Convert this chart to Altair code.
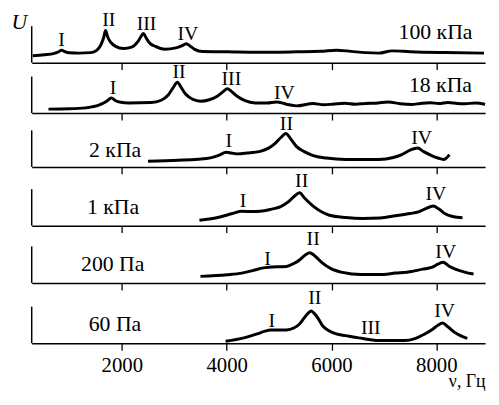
import altair as alt
import pandas as pd

FONT = "Liberation Serif"
X_DOMAIN = [280, 8930]
PANEL_U_MAX = 37          # height of each plotted frame in U units
TICK_VALUES = [2000, 4000, 6000, 8000]
X_TITLE = "ν, Гц"
Y_TITLE = "U"

# ---- panel 1: 100 кПа ----
p1_nu = [300, 520, 710, 790, 850, 900, 1000, 1180, 1410, 1520, 1600, 1650, 1690, 1730, 1790, 1880,
         2030, 2200, 2300, 2360, 2410, 2460, 2520, 2640, 2820, 3030, 3140, 3230, 3300, 3390, 3540,
         4010, 4580, 5330, 5800, 6090, 6370, 6650, 6900, 7160, 7500, 8160, 8910]
p1_u = [7, 8, 9.5, 11, 12.7, 11.5, 10, 9.7, 10.2, 12.5, 18, 25, 32.7, 26, 20.5, 16.5,
        14.3, 16, 21, 26, 29.7, 25.5, 20.5, 16.5, 13.7, 15, 17, 19.3, 17, 13.5, 11.3,
        11, 10.5, 11, 11.5, 12.7, 11.5, 10.2, 9.7, 12, 11.2, 10.3, 9.7]
p1_pk_nu = [850, 1750, 2470, 3260]
p1_pk_u = [23, 43, 39.3, 29.3]
p1_pk_txt = ["I", "II", "III", "IV"]
p1_name = "100 кПа"

# ---- panel 2: 18 кПа ----
p2_nu = [600, 1000, 1310, 1560, 1710, 1800, 1880, 1980, 2130, 2560, 2750, 2880, 2970, 3060, 3130,
         3220, 3350, 3500, 3670, 3820, 3940, 4010, 4090, 4200, 4350, 4540, 4770, 4950, 5140, 5330,
         5650, 5850, 6020, 6250, 6460, 6650, 6840, 7080, 7310, 7530, 7700, 7880, 8050, 8220, 8400,
         8540, 8750, 8930]
p2_u = [4, 4.3, 5.3, 8, 12, 15.3, 12.5, 11, 10.3, 10.7, 13, 18, 25, 31.3, 26,
        19, 14, 12, 13.5, 17, 22, 24.7, 22, 17, 12.5, 10.3, 10.3, 11.3, 9, 7.3,
        9.7, 8.5, 9, 10, 9, 9.8, 10, 11.3, 9.5, 8.7, 9.8, 10.5, 9.6, 10.7, 9.8,
        9.5, 10.2, 9]
p2_pk_nu = [1830, 3090, 4090, 5100]
p2_pk_u = [25.7, 42, 34.7, 20.7]
p2_pk_txt = ["I", "II", "III", "IV"]
p2_name = "18 кПа"

# ---- panel 3: 2 кПа ----
p3_nu = [2500, 3070, 3450, 3690, 3860, 3990, 4090, 4200, 4390, 4640, 4800, 4920, 5030, 5130, 5220,
         5330, 5480, 5650, 5900, 6270, 6900, 7180, 7340, 7500, 7640, 7760, 7910, 8030, 8140, 8250]
p3_u = [5.8, 6.8, 7.8, 9.2, 12, 14.8, 14, 13.2, 14, 15.8, 19, 23.5, 29.5, 33.8, 28.5,
        20.8, 15.5, 11.5, 9, 7.5, 7.5, 9.5, 12.5, 17, 19.2, 15.5, 11.5, 9, 7.5, 12.5]
p3_pk_nu = [4040, 5140, 7720]
p3_pk_u = [25.8, 43, 29.2]
p3_pk_txt = ["I", "II", "IV"]
p3_name = "2 кПа"

# ---- panel 4: 1 кПа ----
p4_nu = [3480, 3670, 3890, 4110, 4290, 4480, 4640, 4860, 5020, 5180, 5290, 5390, 5480, 5650,
         5800, 5960, 6270, 6590, 6930, 7220, 7500, 7660, 7800, 7940, 8050, 8160, 8310, 8500]
p4_u = [5.6, 6.8, 9, 12.3, 14.6, 14.3, 14.6, 16.8, 19, 24.3, 29.8, 33.3, 28.3, 19.8,
        14.3, 10.6, 8.3, 7.3, 7.8, 10, 12.3, 14, 17.3, 20, 16.8, 12.3, 9.3, 8]
p4_pk_nu = [4310, 5430, 7990]
p4_pk_u = [24.6, 45.6, 32.3]
p4_pk_txt = ["I", "II", "IV"]
p4_name = "1 кПа"

# ---- panel 5: 200 Па ----
p5_nu = [3500, 4010, 4290, 4510, 4670, 4800, 5140, 5290, 5390, 5480, 5580, 5670, 5750, 5830,
         5990, 6210, 6560, 6900, 7220, 7530, 7740, 7910, 8030, 8130, 8230, 8350, 8540, 8710]
p5_u = [6.7, 8.3, 10, 12.7, 15, 16, 16.7, 20, 23.3, 27.5, 30.7, 28, 24, 20,
        14.5, 10.7, 8.5, 8.5, 10, 11.7, 14, 15.7, 19, 21, 17.5, 14.3, 11, 9]
p5_pk_nu = [4780, 5650, 8180]
p5_pk_u = [24.3, 44, 31.7]
p5_pk_txt = ["I", "II", "IV"]
p5_name = "200 Па"

# ---- panel 6: 60 Па ----
p6_nu = [3980, 4330, 4580, 4730, 4830, 5140, 5290, 5390, 5480, 5560, 5610, 5670, 5750, 5830,
         5950, 6090, 6270, 6520, 6900, 7400, 7590, 7780, 7930, 8030, 8120, 8220, 8350, 8460, 8590]
p6_u = [2, 5.4, 9.4, 12.2, 13.4, 13.4, 15.7, 19.4, 25.7, 30.7, 32.7, 30.2, 24.7, 17.7,
        12.7, 9.4, 7.7, 5.4, 2.7, 2.7, 4.7, 9.4, 14.2, 18.2, 20.4, 16.7, 11, 7.7, 5]
p6_pk_nu = [4860, 5680, 6750, 8160]
p6_pk_u = [22.7, 45.4, 15, 32.7]
p6_pk_txt = ["I", "II", "III", "IV"]
p6_name = "60 Па"

# pressure-label anchor (right edge) per panel
name_nu = [8690, 8680, 2370, 2330, 2430, 2370]
name_u = [31, 28, 17.5, 19, 19, 19.4]

panels = [
    (p1_nu, p1_u, p1_pk_nu, p1_pk_u, p1_pk_txt, p1_name),
    (p2_nu, p2_u, p2_pk_nu, p2_pk_u, p2_pk_txt, p2_name),
    (p3_nu, p3_u, p3_pk_nu, p3_pk_u, p3_pk_txt, p3_name),
    (p4_nu, p4_u, p4_pk_nu, p4_pk_u, p4_pk_txt, p4_name),
    (p5_nu, p5_u, p5_pk_nu, p5_pk_u, p5_pk_txt, p5_name),
    (p6_nu, p6_u, p6_pk_nu, p6_pk_u, p6_pk_txt, p6_name),
]
# extra empty headroom above each frame (uneven gaps between frames)
BASE_GAP = 14
headroom = [0, 0, 3.5, 8, 7, 10]
PANEL_W = 459

xscale = alt.Scale(domain=X_DOMAIN, nice=False, zero=False)


def make_panel(i, nu, u, pk_nu, pk_u, pk_txt, name):
    last = i == len(panels) - 1
    first = i == 0
    top = PANEL_U_MAX + headroom[i]
    yscale = alt.Scale(domain=[0, top], nice=False, zero=False)
    if last:
        xaxis = alt.Axis(values=TICK_VALUES, format="d", grid=False, tickSize=7, tickWidth=1.3,
                         tickColor="black", domainColor="black", domainWidth=1.5, labelFont=FONT,
                         labelFontSize=21, labelColor="black", labelPadding=5, title=X_TITLE,
                         titleFont=FONT, titleFontSize=18, titleFontWeight="normal",
                         titleColor="black", titleAnchor="end", titlePadding=-3)
    else:
        xaxis = alt.Axis(values=TICK_VALUES, grid=False, tickSize=7, tickWidth=1.3, tickColor="black",
                         domainColor="black", domainWidth=1.5, labels=False, title=None)
    if first:
        yaxis = alt.Axis(grid=False, ticks=False, labels=False, domain=False,
                         title=Y_TITLE, titleAngle=0, titleFont=FONT, titleFontSize=22,
                         titleFontStyle="italic", titleFontWeight="normal", titleColor="black",
                         titleAlign="left", titleBaseline="alphabetic", titleX=-21, titleY=2)
    else:
        yaxis = alt.Axis(grid=False, ticks=False, labels=False, domain=False, title=None)

    line_df = pd.DataFrame({"nu": nu, "U": u})
    pk_df = pd.DataFrame({"nu": pk_nu, "U": pk_u, "t": pk_txt})
    nm_df = pd.DataFrame({"nu": [name_nu[i]], "U": [name_u[i]], "t": [name],
                          "lo": [0], "hi": [PANEL_U_MAX]})

    line = alt.Chart(line_df).mark_line(color="black", strokeWidth=3, interpolate="monotone").encode(
        x=alt.X("nu:Q", scale=xscale, axis=xaxis),
        y=alt.Y("U:Q", scale=yscale, axis=yaxis),
    )
    # left frame line of the panel (from U = 0 to the frame top)
    frame = alt.Chart(nm_df).mark_rule(color="black", strokeWidth=1.5).encode(
        x=alt.value(0),
        y=alt.Y("lo:Q", scale=yscale, axis=yaxis),
        y2="hi:Q",
    )
    peaks = alt.Chart(pk_df).mark_text(font=FONT, fontSize=20, color="black", align="center",
                                       baseline="middle").encode(
        x=alt.X("nu:Q", scale=xscale, axis=xaxis), y=alt.Y("U:Q", scale=yscale, axis=yaxis),
        text="t:N")
    label = alt.Chart(nm_df).mark_text(font=FONT, fontSize=22, color="black", align="right",
                                       baseline="middle").encode(
        x=alt.X("nu:Q", scale=xscale, axis=xaxis), y=alt.Y("U:Q", scale=yscale, axis=yaxis),
        text="t:N")
    return alt.layer(line, frame, peaks, label).properties(width=PANEL_W, height=top)


charts = [make_panel(i, *p) for i, p in enumerate(panels)]
chart = alt.vconcat(*charts, spacing=BASE_GAP, bounds="flush")

chart = (chart.properties(padding={"left": 3, "top": 0, "right": 0, "bottom": 0})
         .configure_view(stroke=None, strokeWidth=0)
         .configure_axis(grid=False, gridColor="white")
         .configure(background="white", style={"cell": {"stroke": "transparent", "strokeWidth": 0}}))

chart.save("out.html", embed_options={"renderer": "svg", "actions": False})
